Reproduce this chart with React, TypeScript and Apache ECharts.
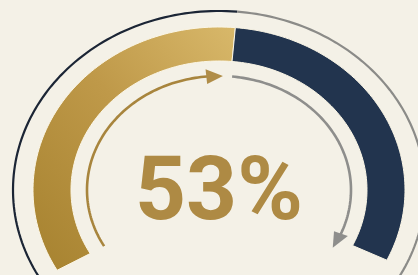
import React, { useEffect, useRef } from "react";
import * as echarts from "echarts";

// ---- data ----
const gaugeValues = [53];
const gaugeMax = [100];
const valueLabels = ["53%"];

// ---- styling / layout ----
const BG = "#f4f1e7";
const START = 209.5;
const END = -25.5;

function pt(cx: number, cy: number, rx: number, ry: number, deg: number) {
  const r = (deg * Math.PI) / 180;
  return [cx + rx * Math.cos(r), cy - ry * Math.sin(r)];
}
function arc(cx: number, cy: number, rx: number, ry: number, a0: number, a1: number, n = 90) {
  const out: number[][] = [];
  for (let i = 0; i <= n; i++) out.push(pt(cx, cy, rx, ry, a0 + ((a1 - a0) * i) / n));
  return out;
}
function band(cx: number, cy: number, o: number[], inn: number[], a0: number, a1: number) {
  return arc(cx, cy, o[0], o[1], a0, a1).concat(arc(cx, cy, inn[0], inn[1], a1, a0));
}
function head(cx: number, cy: number, rx: number, ry: number, tip: number, base: number, hw: number) {
  return [
    pt(cx, cy, rx, ry, tip),
    pt(cx, cy, rx + hw, ry + hw * 0.87, base),
    pt(cx, cy, rx - hw, ry - hw * 0.87, base),
  ];
}

export default function App() {
  const ref = useRef<HTMLDivElement>(null);
  useEffect(() => {
    if (!ref.current) return;
    const chart = echarts.init(ref.current, null, { renderer: "svg" });
    chart.setOption({
      animation: false,
      backgroundColor: BG,
      series: [
        {
          type: "custom",
          coordinateSystem: "none",
          data: gaugeValues.map((v, i) => [v, gaugeMax[i]]),
          renderItem: (params: any, api: any) => {
            const v = api.value(0);
            const max = api.value(1);
            const cx = 219;
            const cy = 190;
            const va = START + ((END - START) * v) / max;
            const outer = [186, 163];
            const inner = [148, 129];
            const lr = [206, 179];
            const ar = [132, 114];
            return {
              type: "group",
              children: [
                {
                  type: "polyline",
                  shape: { points: arc(cx, cy, lr[0], lr[1], 216, va) },
                  style: { stroke: "#1b2535", lineWidth: 2.2, fill: null },
                },
                {
                  type: "polyline",
                  shape: { points: arc(cx, cy, lr[0], lr[1], va, -36) },
                  style: { stroke: "#8b8b88", lineWidth: 2.2, fill: null },
                },
                {
                  type: "polygon",
                  shape: { points: band(cx, cy, outer, inner, START, va) },
                  style: {
                    fill: new echarts.graphic.LinearGradient(0, 1, 1, 0, [
                      { offset: 0, color: "#a6822f" },
                      { offset: 0.55, color: "#bf9949" },
                      { offset: 1, color: "#d8b86a" },
                    ]),
                    stroke: "#fbf6e6",
                    lineWidth: 1,
                  },
                },
                {
                  type: "polygon",
                  shape: { points: band(cx, cy, outer, inner, va, END) },
                  style: { fill: "#22344e", stroke: "#fbf6e6", lineWidth: 1 },
                },
                {
                  type: "polyline",
                  shape: { points: arc(cx, cy, ar[0], ar[1], 209.5, 94) },
                  style: { stroke: "#a8853d", lineWidth: 2.6, fill: null },
                },
                {
                  type: "polygon",
                  shape: { points: head(cx, cy, ar[0], ar[1], 88.3, 95.5, 8.5) },
                  style: { fill: "#b08d48" },
                },
                {
                  type: "polyline",
                  shape: { points: arc(cx, cy, ar[0], ar[1], 84.3, -23) },
                  style: { stroke: "#8e8e8c", lineWidth: 2.6, fill: null },
                },
                {
                  type: "polygon",
                  shape: { points: head(cx, cy, ar[0], ar[1], -30.5, -22.5, 7.5) },
                  style: { fill: "#8e8e8c" },
                },
                {
                  type: "text",
                  x: cx,
                  y: 188,
                  style: {
                    text: valueLabels[0],
                    fontSize: 89,
                    fontWeight: "bold",
                    fontFamily: "Roboto",
                    fill: "#ae8a44",
                    align: "center",
                    verticalAlign: "middle",
                  },
                },
              ],
            };
          },
        },
      ],
    });
    return () => chart.dispose();
  }, []);
  return (
    <div
      ref={ref}
      style={{ position: "fixed", left: 0, top: 0, width: 418, height: 275, background: BG }}
    />
  );
}
